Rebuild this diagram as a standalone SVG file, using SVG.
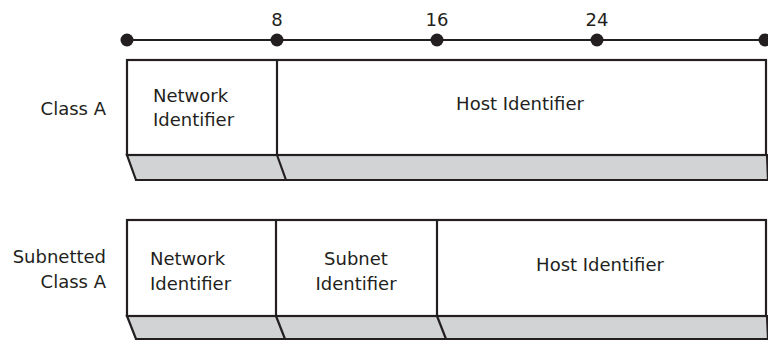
<svg xmlns="http://www.w3.org/2000/svg" width="768" height="340" viewBox="0 0 768 340">
  <style>
    .t { font-family: "DejaVu Sans", "Liberation Sans", sans-serif; font-size: 18px; fill: #231f20; }
    .m { text-anchor: middle; }
    .e { text-anchor: end; }
    .box { fill: #ffffff; stroke: #231f20; stroke-width: 2.2; }
    .sh { fill: #d1d3d4; stroke: #231f20; stroke-width: 2.2; stroke-linejoin: miter; }
    .ln { stroke: #231f20; stroke-width: 2.2; fill: none; }
    .dot { fill: #231f20; }
  </style>

  <g id="ruler">
    <line class="ln" x1="127" y1="40" x2="765" y2="40"/>
    <circle class="dot" cx="127" cy="40" r="6.5"/>
    <circle class="dot" cx="277" cy="40" r="6.5"/>
    <circle class="dot" cx="437" cy="40" r="6.5"/>
    <circle class="dot" cx="597" cy="40" r="6.5"/>
    <circle class="dot" cx="765" cy="40" r="6.5"/>
    <text class="t m" x="277" y="26">8</text>
    <text class="t m" x="437" y="26">16</text>
    <text class="t m" x="597" y="26">24</text>
  </g>

  <g id="classA-label">
    <text class="t e" x="106" y="115">Class A</text>
  </g>

  <g id="classA">
    <polygon class="sh" points="127,155 767,155 768,180 136,180"/>
    <rect class="box" x="127" y="60" width="639" height="95"/>
    <g id="classA-network">
      <text class="t" x="153" y="101.5">Network</text>
      <text class="t" x="153" y="125.5">Identifier</text>
    </g>
    <g id="classA-host">
      <text class="t m" x="520" y="110">Host Identifier</text>
    </g>
  </g>

  <g id="subnetted-label">
    <text class="t e" x="106" y="263">Subnetted</text>
    <text class="t e" x="106" y="288">Class A</text>
  </g>

  <g id="subnettedA">
    <polygon class="sh" points="127,316 767,316 768,339 136,339"/>
    <rect class="box" x="127" y="220" width="639" height="96"/>
    <g id="sub-network">
      <text class="t" x="150" y="265">Network</text>
      <text class="t" x="150" y="290">Identifier</text>
    </g>
    <g id="sub-subnet">
      <text class="t m" x="356" y="265">Subnet</text>
      <text class="t m" x="356" y="290">Identifier</text>
    </g>
    <g id="sub-host">
      <text class="t m" x="600" y="271">Host Identifier</text>
    </g>
  </g>

  <g id="connectors">
    <line class="ln" x1="277" y1="60" x2="277" y2="155"/>
    <line class="ln" x1="277" y1="155" x2="286" y2="180"/>
    <line class="ln" x1="276" y1="220" x2="276" y2="316"/>
    <line class="ln" x1="276" y1="316" x2="285" y2="339"/>
    <line class="ln" x1="437" y1="220" x2="437" y2="316"/>
    <line class="ln" x1="437" y1="316" x2="446" y2="339"/>
  </g>
</svg>
